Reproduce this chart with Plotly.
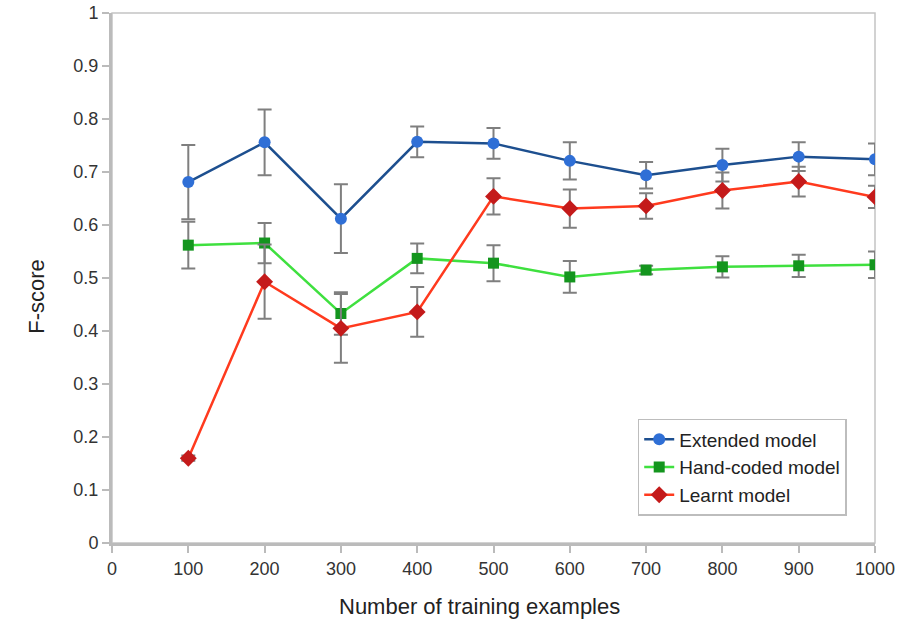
import plotly.graph_objects as go

x_vals = [100, 200, 300, 400, 500, 600, 700, 800, 900, 1000]

extended = [0.681, 0.756, 0.612, 0.757, 0.754, 0.721, 0.694, 0.713, 0.729, 0.724]
extended_err = [0.070, 0.062, 0.065, 0.029, 0.029, 0.035, 0.025, 0.031, 0.027, 0.030]

handcoded = [0.562, 0.566, 0.433, 0.537, 0.528, 0.502, 0.515, 0.521, 0.523, 0.525]
handcoded_err = [0.044, 0.038, 0.040, 0.028, 0.034, 0.030, 0.008, 0.020, 0.021, 0.025]

learnt = [0.160, 0.493, 0.405, 0.436, 0.654, 0.631, 0.636, 0.665, 0.682, 0.653]
learnt_err = [0.005, 0.070, 0.065, 0.047, 0.034, 0.036, 0.024, 0.034, 0.028, 0.021]

x_ticks = [0, 100, 200, 300, 400, 500, 600, 700, 800, 900, 1000]
y_ticks = [0, 0.1, 0.2, 0.3, 0.4, 0.5, 0.6, 0.7, 0.8, 0.9, 1]
y_tick_text = ["0", "0.1", "0.2", "0.3", "0.4", "0.5", "0.6", "0.7", "0.8", "0.9", "1"]

x_title = "Number of training examples"
y_title = "F-score"

err_style = dict(type="data", visible=True, color="#7f7f7f", thickness=2, width=7)

series = [
    ("Extended model", extended, extended_err, "#1d4f8f", "#2f6fd6", "circle", 12),
    ("Hand-coded model", handcoded, handcoded_err, "#3fe03f", "#14951e", "square", 11),
    ("Learnt model", learnt, learnt_err, "#ff3a1e", "#c41a1a", "diamond", 13),
]

FONT = "Liberation Sans, Arial, sans-serif"

fig = go.Figure()
for name, vals, errs, lc, mc, sym, sz in series:
    fig.add_trace(go.Scatter(
        x=x_vals, y=vals, name=name, mode="lines+markers",
        line=dict(color=lc, width=2.5),
        marker=dict(color=mc, symbol=sym, size=sz, line=dict(width=0)),
        error_y=dict(array=errs, **err_style),
    ))

fig.add_shape(type="rect", xref="paper", yref="paper", x0=0, y0=0, x1=1, y1=1,
              line=dict(color="#c4c4c4", width=1.5), layer="below")

fig.add_annotation(text=x_title, xref="paper", yref="paper", x=0.482, y=-0.119,
                   xanchor="center", yanchor="middle", showarrow=False,
                   font=dict(family=FONT, size=22, color="#222222"))
fig.add_annotation(text=y_title, xref="paper", yref="paper", x=-0.1, y=0.466,
                   xanchor="center", yanchor="middle", showarrow=False, textangle=-90,
                   font=dict(family=FONT, size=22, color="#222222"))

axis_font = dict(family=FONT, size=18, color="#333333")

fig.update_layout(
    width=918, height=624,
    margin=dict(l=112, r=43, t=13, b=81, autoexpand=False),
    paper_bgcolor="white", plot_bgcolor="white",
    font=dict(family=FONT, size=14, color="#222222"),
    showlegend=True,
    legend=dict(
        x=0.689, y=0.234, xanchor="left", yanchor="top",
        bgcolor="white", bordercolor="#bdbdbd", borderwidth=1.5,
        font=dict(family=FONT, size=19, color="#222222"),
        tracegroupgap=0, itemwidth=30,
    ),
    xaxis=dict(
        range=[0, 1000], tickmode="array", tickvals=x_ticks,
        ticks="outside", ticklen=7, tickwidth=2, tickcolor="#bbbbbb",
        showline=True, linecolor="#bbbbbb", linewidth=3, automargin=False,
        showgrid=False, zeroline=False, tickfont=axis_font,
    ),
    yaxis=dict(
        range=[0, 1], tickmode="array", tickvals=y_ticks, ticktext=y_tick_text,
        ticks="outside", ticklen=7, tickwidth=2, tickcolor="#bbbbbb",
        showline=True, linecolor="#bbbbbb", linewidth=3, automargin=False,
        showgrid=False, zeroline=False, tickfont=axis_font,
    ),
)

fig.write_html("out.html")
